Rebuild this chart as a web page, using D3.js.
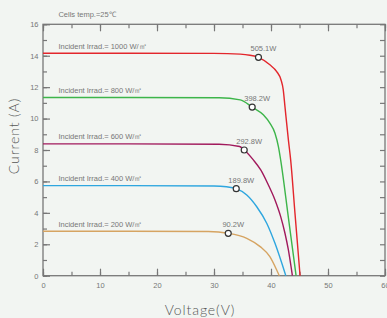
<!DOCTYPE html>
<html>
<head>
<meta charset="utf-8">
<script src="https://cdn.jsdelivr.net/npm/d3@7"></script>
<style>
  body { margin: 0; background: #f2f5f2; }
  svg { display: block; font-family: "Liberation Sans", Arial, sans-serif; }
  .tick text { fill: #777; font-size: 7.5px; }
  .tick line { stroke: #777; stroke-width: 1.2; }
  .domain { display: none; }
  .note { fill: #777; font-size: 7.5px; }
  .title { fill: #555; font-family: Lato, "Open Sans", sans-serif; font-weight: 300; font-size: 14px; letter-spacing: 0.9px; }
</style>
</head>
<body>
<script>
// values
var irradiance = ["1000", "800", "600", "400", "200"];
var colors = ["#e3262c", "#3db54a", "#a1195c", "#2ea6df", "#d6a462"];

var volt1000 = [0, 15, 30, 34.6, 36.3, 37.8, 39.8, 41.0, 41.75, 42.15, 42.45, 43.05, 43.45, 44.2, 45.1];
var amp1000  = [14.16, 14.16, 14.15, 14.1, 14.03, 13.9, 13.42, 12.99, 12.47, 11.83, 10.76, 8.64, 7.37, 4.0, 0];

var volt800 = [0, 15, 30.9, 34.6, 36.7, 38.65, 39.8, 40.7, 41.3, 41.7, 43.05, 44.4];
var amp800  = [11.34, 11.34, 11.33, 11.19, 10.73, 10.24, 9.71, 9.07, 8.22, 7.36, 3.7, 0];

var volt600 = [0, 15, 30.9, 34.5, 35.3, 36.9, 38.2, 39.4, 40.7, 41.7, 42.45, 43.05, 43.75];
var amp600  = [8.39, 8.39, 8.37, 8.22, 8.0, 7.37, 6.73, 5.88, 4.82, 3.76, 2.7, 1.64, 0];

var volt400 = [0, 15, 30, 32.2, 33.9, 35.75, 37.5, 39.25, 40.7, 42.6];
var amp400  = [5.73, 5.73, 5.71, 5.66, 5.54, 5.14, 4.39, 3.34, 2.06, 0];

var volt200 = [0, 15, 29, 32.5, 35.75, 38.1, 39.8, 41.0, 41.45];
var amp200  = [2.83, 2.83, 2.81, 2.7, 2.38, 1.85, 1.21, 0.36, 0];

var mppVolt = [37.8, 36.7, 35.3, 33.9, 32.5];
var mppAmp = [13.9, 10.73, 8.0, 5.54, 2.7];
var mppLabel = ["505.1W", "398.2W", "292.8W", "189.8W", "90.2W"];

var xTicks = [0, 10, 20, 30, 40, 50, 60];
var yTicks = [0, 2, 4, 6, 8, 10, 12, 14, 16];

var voltSets = [volt1000, volt800, volt600, volt400, volt200];
var ampSets = [amp1000, amp800, amp600, amp400, amp200];

var svgWidth = 387, svgHeight = 318;
var margin = { top: 24.3, right: 2, bottom: 42.3, left: 43 };
var chartWidth = svgWidth - margin.left - margin.right;
var chartHeight = svgHeight - margin.top - margin.bottom;

var svg = d3.select("body").append("svg")
  .attr("width", svgWidth)
  .attr("height", svgHeight);

var chartGroup = svg.append("g")
  .attr("transform", `translate(${margin.left}, ${margin.top})`);

var x = d3.scaleLinear().domain([0, 60]).range([0, chartWidth]);
var y = d3.scaleLinear().domain([0, 16]).range([chartHeight, 0]);

var minorX = d3.range(0, 61, 5);
var minorY = d3.range(0, 17, 1);

// minor ticks first, then major with labels
chartGroup.append("g").attr("transform", `translate(0, ${chartHeight})`)
  .call(d3.axisBottom(x).tickValues(minorX).tickSize(-4).tickSizeOuter(0).tickFormat(""));
chartGroup.append("g").attr("transform", `translate(0, ${chartHeight})`)
  .call(d3.axisBottom(x).tickValues(xTicks).tickSize(-7).tickSizeOuter(0).tickPadding(7));

chartGroup.append("g")
  .call(d3.axisTop(x).tickValues(minorX).tickSize(-4).tickSizeOuter(0).tickFormat(""));
chartGroup.append("g")
  .call(d3.axisTop(x).tickValues(xTicks).tickSize(-7).tickSizeOuter(0).tickFormat(""));

chartGroup.append("g")
  .call(d3.axisLeft(y).tickValues(minorY).tickSize(-4).tickSizeOuter(0).tickFormat(""));
chartGroup.append("g")
  .call(d3.axisLeft(y).tickValues(yTicks).tickSize(-7).tickSizeOuter(0).tickPadding(4.5));

chartGroup.append("g").attr("transform", `translate(${chartWidth}, 0)`)
  .call(d3.axisRight(y).tickValues(minorY).tickSize(-5).tickSizeOuter(0).tickFormat(""));

// frame
chartGroup.append("rect")
  .attr("width", chartWidth)
  .attr("height", chartHeight)
  .attr("fill", "none")
  .attr("stroke", "#777")
  .attr("stroke-width", 1.3);

var drawLine = d3.line()
  .x(d => x(d[0]))
  .y(d => y(d[1]))
  .curve(d3.curveMonotoneX);

voltSets.forEach(function(volts, i) {
  var pts = volts.map((v, j) => [v, ampSets[i][j]]);
  chartGroup.append("path")
    .attr("d", drawLine(pts))
    .attr("fill", "none")
    .attr("stroke", colors[i])
    .attr("stroke-width", 1.4);

  chartGroup.append("text")
    .attr("class", "note")
    .attr("x", x(2.7))
    .attr("y", y(ampSets[i][0]) - 4.5)
    .text("Incident Irrad.= " + irradiance[i] + " W/㎡");
});

chartGroup.selectAll(".mpp")
  .data(mppVolt)
  .enter()
  .append("circle")
  .attr("class", "mpp")
  .attr("cx", d => x(d))
  .attr("cy", (d, i) => y(mppAmp[i]))
  .attr("r", 3)
  .attr("fill", "#fff")
  .attr("stroke", "#333")
  .attr("stroke-width", 1.2);

chartGroup.selectAll(".mppText")
  .data(mppVolt)
  .enter()
  .append("text")
  .attr("class", "note")
  .attr("text-anchor", "middle")
  .attr("font-size", "8px")
  .attr("x", d => x(d) + 5)
  .attr("y", (d, i) => y(mppAmp[i]) - 6)
  .text((d, i) => mppLabel[i]);

chartGroup.append("text")
  .attr("class", "note")
  .attr("x", x(2.7))
  .attr("y", -7)
  .text("Cells temp.=25℃");

// axis titles
svg.append("text")
  .attr("class", "title")
  .attr("text-anchor", "middle")
  .attr("x", 200)
  .attr("y", 315)
  .text("Voltage(V)");

svg.append("text")
  .attr("class", "title")
  .attr("text-anchor", "middle")
  .attr("transform", "translate(19, 136) rotate(-90)")
  .text("Current (A)");
</script>
</body>
</html>
